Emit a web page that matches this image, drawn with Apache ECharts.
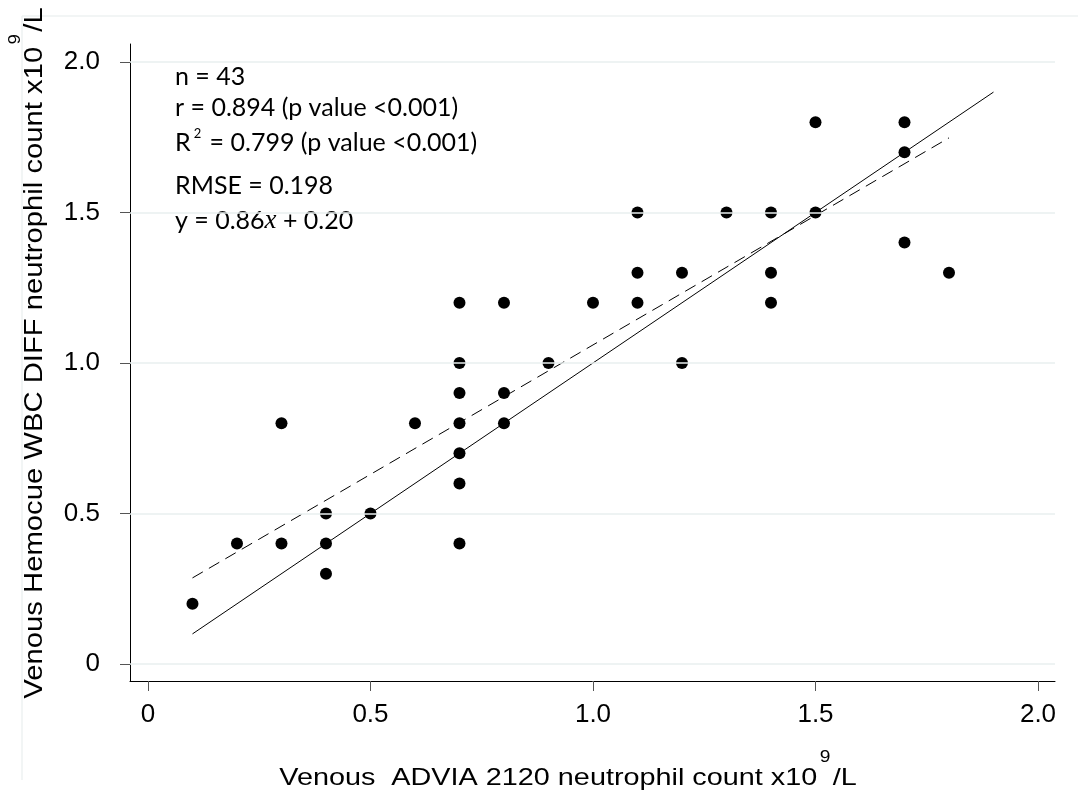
<!DOCTYPE html>
<html>
<head>
<meta charset="utf-8">
<script src="https://cdn.jsdelivr.net/npm/echarts@6/dist/echarts.min.js"></script>
<style>
html,body{margin:0;padding:0;background:#fff;}
#chart{width:1078px;height:794px;}
</style>
</head>
<body>
<div id="chart"></div>
<script>
// ---- data ----
var advia = [0.1,0.2,0.3,0.3,0.4,0.4,0.4,0.5,0.6,0.7,0.7,0.7,0.7,0.7,0.7,0.7,0.8,0.8,0.8,0.9,1.0,1.1,1.1,1.1,1.2,1.2,1.3,1.4,1.4,1.4,1.5,1.5,1.7,1.7,1.7,1.8];
var hemocue = [0.2,0.4,0.8,0.4,0.5,0.4,0.3,0.5,0.8,1.2,1.0,0.9,0.8,0.7,0.6,0.4,1.2,0.9,0.8,1.0,1.2,1.5,1.3,1.2,1.3,1.0,1.5,1.5,1.3,1.2,1.8,1.5,1.8,1.7,1.4,1.3];
var identityX = [0.1, 1.9];
var fitX = [0.1, 1.8];
var fitSlope = 0.86;
var fitIntercept = 0.20;
var tickValues = [0, 0.5, 1.0, 1.5, 2.0];

var points = advia.map(function(x, i){ return [x, hemocue[i]]; });
var identity = identityX.map(function(x){ return [x, x]; });
var fit = fitX.map(function(x){ return [x, +(fitSlope * x + fitIntercept).toFixed(4)]; });

var chart = echarts.init(document.getElementById('chart'), null, {renderer:'canvas'});
var labelFmt = function(v){ return v === 0 ? '0' : v.toFixed(1); };
var annFont = 'Lato';
var annSize = 25;
var annStyle = function(t){ return {text: t, font: annSize + 'px ' + annFont, fill: '#000'}; };

chart.setOption({
  animation: false,
  backgroundColor: '#ffffff',
  grid: {left: 130, right: 23, top: 44, bottom: 113},
  xAxis: {
    type: 'value', min: -0.0404, max: 2.0382,
    axisLine: {show: true, onZero: false, lineStyle: {color: '#000', width: 1}},
    axisTick: {show: true, length: 10, customValues: tickValues, lineStyle: {color: '#555'}},
    axisLabel: {customValues: tickValues, formatter: labelFmt, margin: 21,
      fontFamily: 'Liberation Sans', fontSize: 26, color: '#000'},
    splitLine: {show: false}
  },
  yAxis: {
    type: 'value', min: -0.0565, max: 2.0598,
    axisLine: {show: true, onZero: false, lineStyle: {color: '#000', width: 1}},
    axisTick: {show: true, length: 10, customValues: tickValues, lineStyle: {color: '#555'}},
    axisLabel: {customValues: tickValues, formatter: labelFmt, margin: 30,
      fontFamily: 'Liberation Sans', fontSize: 26, color: '#000'},
    splitLine: {show: false}
  },
  series: [
    {
      type: 'line', data: [], silent: true,
      markLine: {
        silent: true, symbol: 'none', label: {show: false},
        lineStyle: {color: '#e9efef', type: 'solid', width: 1.5},
        data: tickValues.map(function(v){ return {yAxis: v}; })
      }
    },
    {
      type: 'line', data: identity, showSymbol: false, silent: true,
      lineStyle: {color: '#000', width: 1, type: 'solid'}
    },
    {
      type: 'line', data: fit, showSymbol: false, silent: true,
      lineStyle: {color: '#000', width: 1, type: [12, 7]}
    },
    {
      type: 'scatter', data: points, symbol: 'circle', symbolSize: 12,
      itemStyle: {color: '#000', opacity: 1}
    }
  ],
  graphic: [
    {type: 'line', silent: true, z: -1, shape: {x1: 22, y1: 16, x2: 1078, y2: 16}, style: {stroke: '#eef2f2', lineWidth: 1.5}},
    {type: 'line', silent: true, z: -1, shape: {x1: 22, y1: 16, x2: 22, y2: 780}, style: {stroke: '#eef2f2', lineWidth: 1.5}},
    {type: 'text', left: 175, top: 64, style: annStyle('n = 43')},
    {type: 'text', left: 175, top: 95, style: annStyle('r = 0.894 (p value <0.001)')},
    {type: 'text', left: 175, top: 127, style: {
      text: '{a|R}{s|2}{a| = 0.799 (p value <0.001)}',
      rich: {
        a: {fontFamily: annFont, fontSize: annSize, color: '#000', lineHeight: 28, verticalAlign: 'bottom'},
        s: {fontFamily: annFont, fontSize: 13, color: '#000', lineHeight: 28, verticalAlign: 'top', padding: [0, 2, 0, 3]}
      }
    }},
    {type: 'text', left: 175, top: 173, style: annStyle('RMSE = 0.198')},
    {type: 'text', left: 175, top: 207, style: {
      text: '{a|y = 0.86}{i|x}{a| + 0.20}',
      rich: {
        a: {fontFamily: annFont, fontSize: annSize, color: '#000'},
        i: {fontFamily: 'Liberation Serif', fontStyle: 'italic', fontSize: annSize + 2, color: '#000'}
      }
    }},
    {type: 'text', x: 568, y: 770, scaleX: 1.2, style: {
      text: '{a|Venous  ADVIA 2120 neutrophil count x10}{s|9}{a|/L}',
      align: 'center', verticalAlign: 'middle',
      rich: {
        a: {fontFamily: 'Liberation Sans', fontSize: 24, color: '#000', lineHeight: 40, verticalAlign: 'bottom'},
        s: {fontFamily: 'Liberation Sans', fontSize: 16, color: '#000', lineHeight: 40, verticalAlign: 'top', padding: [0, 2, 0, 2]}
      }
    }},
    {type: 'text', x: 28, y: 353, rotation: Math.PI / 2, scaleX: 1.17, style: {
      text: '{a|Venous Hemocue WBC DIFF neutrophil count x10}{s|9}{a|/L}',
      align: 'center', verticalAlign: 'middle',
      rich: {
        a: {fontFamily: 'Liberation Sans', fontSize: 25, color: '#000', lineHeight: 40, verticalAlign: 'bottom'},
        s: {fontFamily: 'Liberation Sans', fontSize: 16, color: '#000', lineHeight: 40, verticalAlign: 'top', padding: [0, 2, 0, 2]}
      }
    }}
  ]
});
</script>
</body>
</html>
